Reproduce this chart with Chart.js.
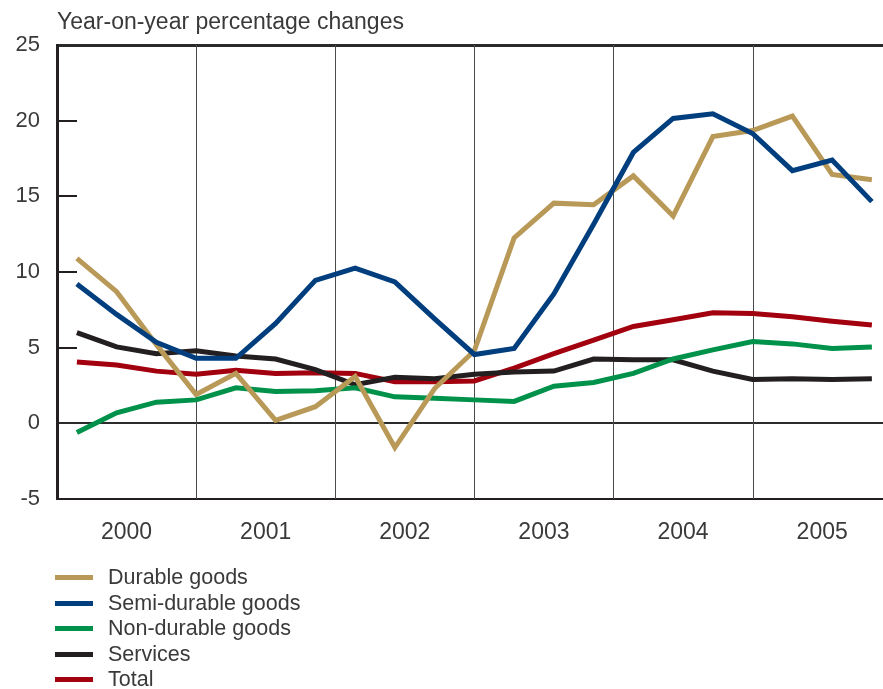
<!DOCTYPE html>
<html lang="en">
<head>
  <meta charset="UTF-8">
  <title>Consumer prices - year-on-year changes</title>
  <script src="https://cdn.jsdelivr.net/npm/chart.js"></script>
  <style>
    body {
      margin: 0;
      background: #fff;
      font-family: "Liberation Sans", Arial, sans-serif;
    }
    #wrap {
      position: relative;
      width: 883px;
      height: 689px;
    }
    #legend {
      position: absolute;
      left: 55px;
      top: 565px;
      font-size: 21.5px;
      color: #3a3a3a;
    }
    .item {
      height: 25.5px;
      line-height: 25.5px;
      display: flex;
      align-items: center;
    }
    .swatch {
      display: inline-block;
      width: 38px;
      height: 5px;
      margin-right: 15px;
    }
  </style>
</head>
<body>
  <div id="wrap">
    <canvas id="chart" width="883" height="689"></canvas>
    <div id="legend"></div>
  </div>

  <script>
    // years on the x axis (each year covers 3.5 observation steps)
    const years = ['2000', '2001', '2002', '2003', '2004', '2005'];
    const stepsPerYear = 3.5;

    // series values
    const durable = [10.9, 8.7, 5.2, 1.9, 3.3, 0.2, 1.1, 3.1, -1.6, 2.3, 4.8,
      12.25, 14.55, 14.45, 16.35, 13.7, 18.95, 19.35, 20.3, 16.45, 16.1];
    const semiDurable = [9.2, 7.2, 5.35, 4.3, 4.3, 6.6, 9.45, 10.25, 9.35, 6.9, 4.55,
      4.95, 8.55, 13.15, 17.9, 20.15, 20.45, 19.15, 16.7, 17.4, 14.65];
    const nonDurable = [-0.6, 0.7, 1.4, 1.55, 2.35, 2.1, 2.15, 2.35, 1.75, 1.65, 1.55,
      1.45, 2.45, 2.7, 3.3, 4.25, 4.85, 5.4, 5.25, 4.95, 5.05];
    const services = [6.0, 5.05, 4.6, 4.8, 4.45, 4.25, 3.55, 2.55, 3.05, 2.95, 3.25,
      3.4, 3.45, 4.25, 4.2, 4.2, 3.45, 2.9, 2.95, 2.9, 2.95];
    const total = [4.05, 3.85, 3.45, 3.25, 3.5, 3.3, 3.35, 3.3, 2.75, 2.75, 2.8,
      3.65, 4.6, 5.5, 6.4, 6.85, 7.3, 7.25, 7.05, 6.75, 6.5];

    const yTicks = [-5, 0, 5, 10, 15, 20, 25];

    const toXY = arr => arr.map((v, i) => ({ x: i, y: v }));
    const yearStart = i => -0.5 + stepsPerYear * i;

    const series = [
      { label: 'Durable goods', data: durable, color: '#b99957', order: 1 },
      { label: 'Semi-durable goods', data: semiDurable, color: '#003e7e', order: 0 },
      { label: 'Non-durable goods', data: nonDurable, color: '#00914a', order: 2 },
      { label: 'Services', data: services, color: '#231f20', order: 3 },
      { label: 'Total', data: total, color: '#a2000e', order: 4 }
    ];

    // vertical year separators and small inward ticks on the y axis
    const decorations = {
      id: 'decorations',
      beforeDatasetsDraw(chart) {
        const { ctx, chartArea, scales: { x, y } } = chart;
        ctx.save();
        ctx.strokeStyle = '#4a4a4a';
        ctx.lineWidth = 1;
        for (let i = 1; i < years.length; i++) {
          const px = Math.round(x.getPixelForValue(yearStart(i))) + 0.5;
          ctx.beginPath();
          ctx.moveTo(px, chartArea.top);
          ctx.lineTo(px, chartArea.bottom);
          ctx.stroke();
        }
        ctx.strokeStyle = '#231f20';
        ctx.lineWidth = 2;
        yTicks.filter(v => v > -5 && v < 25 && v !== 0).forEach(v => {
          const py = Math.round(y.getPixelForValue(v));
          ctx.beginPath();
          ctx.moveTo(chartArea.left, py);
          ctx.lineTo(chartArea.left + 20, py);
          ctx.stroke();
        });
        ctx.restore();
      },
      afterDraw(chart) {
        const { ctx, chartArea } = chart;
        ctx.save();
        ctx.font = '23px "Liberation Sans", Arial, sans-serif';
        ctx.fillStyle = '#3a3a3a';
        ctx.textBaseline = 'alphabetic';
        ctx.fillText('Year-on-year percentage changes', chartArea.left, 29);
        ctx.restore();
      }
    };

    const chart = new Chart(document.getElementById('chart'), {
      type: 'line',
      data: {
        datasets: series.map(s => ({
          label: s.label,
          data: toXY(s.data),
          borderColor: s.color,
          backgroundColor: s.color,
          borderWidth: 5,
          pointRadius: 0,
          tension: 0,
          order: s.order
        }))
      },
      options: {
        responsive: false,
        animation: false,
        layout: { padding: { top: 45, right: 0, bottom: 140, left: 0 } },
        plugins: {
          legend: { display: false },
          tooltip: { enabled: false }
        },
        scales: {
          x: {
            type: 'linear',
            min: -0.5,
            max: 20.28,
            afterBuildTicks: scale => {
              scale.ticks = years.map((_, i) => ({ value: yearStart(i) + stepsPerYear / 2 }));
            },
            afterFit: scale => { scale.height = 50; },
            ticks: {
              autoSkip: false,
              maxRotation: 0,
              padding: 20,
              color: '#3a3a3a',
              font: { family: '"Liberation Sans", Arial, sans-serif', size: 23 },
              callback: (v, i) => years[i]
            },
            grid: { display: false, drawTicks: false },
            border: { color: '#231f20', width: 2 }
          },
          y: {
            min: -5,
            max: 25,
            afterBuildTicks: scale => {
              scale.ticks = yTicks.map(v => ({ value: v }));
            },
            afterFit: scale => { scale.width = 57; },
            ticks: {
              padding: 17,
              color: '#3a3a3a',
              font: { family: '"Liberation Sans", Arial, sans-serif', size: 22 }
            },
            grid: {
              drawTicks: false,
              color: c => (c.tick && (c.tick.value === 0 || c.tick.value === 25)) ? '#2b2b2b' : 'rgba(0,0,0,0)',
              lineWidth: c => (c.tick && c.tick.value === 25) ? 3 : 2
            },
            border: { color: '#231f20', width: 3 }
          }
        }
      },
      plugins: [decorations]
    });

    // legend list, one entry per line
    const legendEl = document.getElementById('legend');
    chart.data.datasets.forEach(ds => {
      const row = document.createElement('div');
      row.className = 'item';
      row.innerHTML = '<span class="swatch" style="background:' + ds.borderColor + '"></span>' + ds.label;
      legendEl.appendChild(row);
    });
  </script>
</body>
</html>
